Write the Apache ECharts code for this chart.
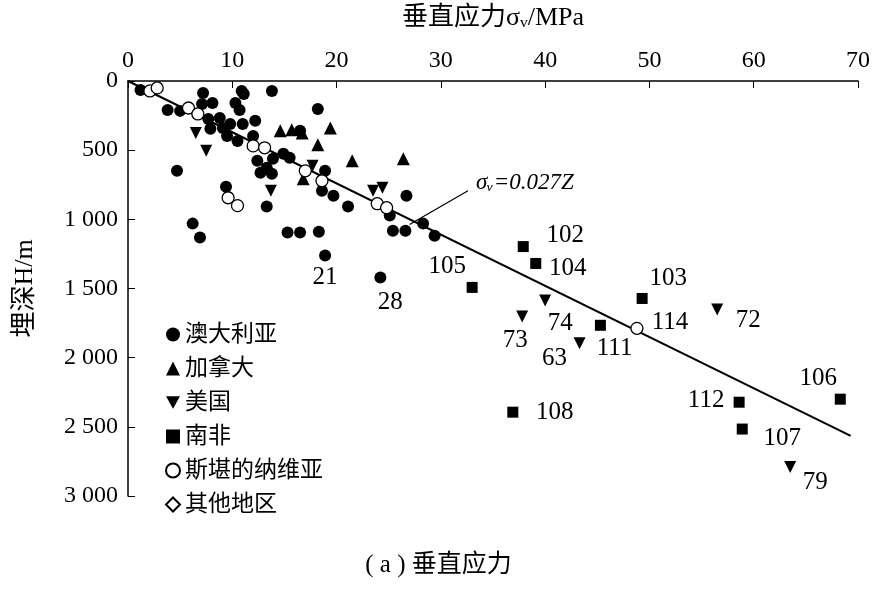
<!DOCTYPE html><html><head><meta charset="utf-8"><script src="https://cdn.jsdelivr.net/npm/echarts@6/dist/echarts.min.js"></script>
<style>html,body{margin:0;background:#fff}#c{width:877px;height:590px}</style></head><body><div id="c"></div><script>
const xTicks=[0,10,20,30,40,50,60,70];
const yTicks=['0','500','1 000','1 500','2 000','2 500','3 000'];
const australia=[[1.2,65],[3.8,209],[5.0,216],[7.2,87],[7.1,166],[8.1,159],[10.3,159],[10.9,72],[11.1,94],[13.8,72],[10.7,209],[12.2,288],[7.7,274],[8.8,267],[7.9,346],[9.1,339],[9.8,310],[11.0,310],[9.5,397],[10.5,433],[12.0,397],[18.2,202],[16.5,360],[14.9,526],[15.5,555],[13.9,562],[12.4,577],[13.3,627],[12.7,663],[13.8,670],[4.7,649],[18.9,649],[9.4,764],[18.6,793],[19.7,829],[21.1,908],[13.3,908],[6.2,1031],[6.9,1132],[15.3,1096],[16.5,1096],[18.3,1089],[25.1,973],[25.4,1082],[26.6,1082],[26.7,829],[28.3,1031],[29.4,1118],[18.9,1262,'21'],[24.2,1420,'28']];
const canada=[[14.6,360],[15.7,353],[16.7,375],[19.4,339],[18.2,461],[21.5,577],[26.4,562],[16.8,707]];
const usa=[[6.5,375],[7.5,505],[13.7,793],[17.7,613],[23.5,793],[24.4,771],[37.8,1702,'73'],[40.0,1586,'74'],[43.3,1896,'111'],[56.5,1651,'72'],[63.5,2790,'79']];
const southAfrica=[[37.9,1197,'102'],[39.1,1319,'104'],[33.0,1492,'105'],[49.3,1572,'103'],[45.3,1766,'63'],[36.9,2394,'108'],[58.6,2322,'112'],[58.9,2516,'107'],[68.3,2300,'106']];
const scandinavia=[[2.1,72],[2.8,50],[5.8,195],[6.7,238],[12.0,469],[13.1,483],[17.0,649],[18.6,721],[9.6,844],[10.5,901],[23.9,887],[24.8,916],[48.8,1788,'114']];
const fitLine=[[0,0],[69.3,2566]];
const leader=[[27.0,1038],[32.6,793]];
const labelOffsets={'21':[0,22],'28':[10,25],'102':[42,-11],'104':[32,5],'105':[-25,-21],'103':[26,-20],'114':[33,-6],'72':[31,11],'73':[-7,24],'74':[15,23],'111':[35,5],'63':[-46,33],'108':[42,0],'112':[-33,-2],'107':[40,9],'106':[-22,-21],'79':[25,15]};
const F='"Liberation Serif","Noto Sans CJK SC",serif';
const down='path://M0,0 L10,0 L5,9 Z';
function mk(arr){return arr.map(p=>p[2]?{value:[p[0],p[1]],label:{show:true,formatter:p[2],position:'inside',offset:labelOffsets[p[2]],color:'#000',fontSize:25,fontFamily:F}}:{value:[p[0],p[1]]});}
function sc(name,arr,symbol,size,style){return {name,type:'scatter',data:mk(arr),symbol,symbolSize:size,itemStyle:Object.assign({opacity:1},style),z:3};}
const fill={color:'#000'}, open={color:'#fff',borderColor:'#000',borderWidth:1.3};
const chart=echarts.init(document.getElementById('c'));
chart.setOption({animation:false,
grid:{left:128,right:19,top:80,bottom:94},
xAxis:{type:'value',position:'top',min:0,max:70,interval:10,name:'垂直应力σᵥ/MPa',nameLocation:'middle',nameGap:50,nameTextStyle:{fontSize:26,color:'#000',fontFamily:F},
 axisLine:{lineStyle:{color:'#000',width:1.5}},axisTick:{inside:true,length:7,lineStyle:{color:'#000'}},splitLine:{show:false},
 axisLabel:{fontSize:24,color:'#000',fontFamily:F,margin:8}},
yAxis:{type:'value',inverse:true,min:0,max:3000,interval:500,name:'埋深H/m',nameLocation:'middle',nameGap:90,nameRotate:90,nameTextStyle:{fontSize:26,color:'#000',fontFamily:F},
 axisLine:{lineStyle:{color:'#000',width:1.5}},axisTick:{inside:true,length:7,lineStyle:{color:'#000'}},splitLine:{show:false},
 axisLabel:{fontSize:24,color:'#000',fontFamily:F,margin:10,formatter:(v)=>yTicks[v/500]}},
legend:{orient:'vertical',left:160,top:318,itemGap:11,itemWidth:14,itemHeight:14,textStyle:{fontSize:23,color:'#000',fontFamily:F},
 data:[{name:'澳大利亚',icon:'circle'},{name:'加拿大',icon:'triangle'},{name:'美国',icon:down},{name:'南非',icon:'rect'},{name:'斯堪的纳维亚',icon:'circle'},{name:'其他地区',icon:'diamond'}]},
series:[
 {type:'line',data:fitLine,symbol:'none',lineStyle:{color:'#000',width:2},silent:true,z:2},
 {type:'line',data:leader,symbol:'none',lineStyle:{color:'#000',width:1.2},silent:true,z:2,
  endLabel:{show:true,formatter:'σᵥ=0.027Z',fontSize:23,color:'#000',fontFamily:F,fontStyle:'italic',offset:[0,-8]}},
 sc('澳大利亚',australia,'circle',12,fill),
 sc('加拿大',canada,'triangle',13,fill),
 sc('美国',usa,down,12,fill),
 sc('南非',southAfrica,'rect',11,fill),
 sc('斯堪的纳维亚',scandinavia,'circle',12,open),
 {name:'其他地区',type:'scatter',data:[],symbol:'diamond',symbolSize:13,itemStyle:Object.assign({opacity:1},open)}
],
graphic:[{type:'text',left:'center',top:553,style:{text:'( a ) 垂直应力',fontSize:25,fill:'#000',fontFamily:F}}]
});
</script></body></html>
